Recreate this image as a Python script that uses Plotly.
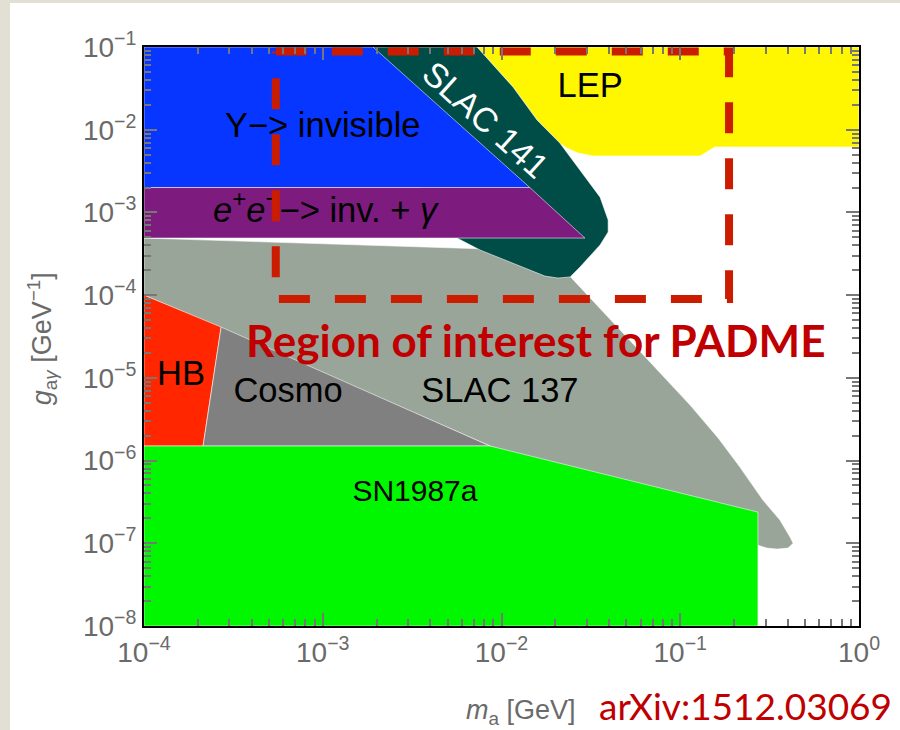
import plotly.graph_objects as go

# ---- exclusion regions in the (m_a [GeV], g_a_gamma [GeV^-1]) plane ----
# SLAC 137 beam dump
slac137_m = [1e-4, 1.27e-2, 2.07e-2, 5.04e-2, 7.71e-2, 0.1135, 0.163, 0.216,
             0.290, 0.361, 0.411, 0.428, 0.401, 0.348, 0.305, 0.272, 0.129, 8.63e-3, 1e-4]
slac137_g = [4.9e-4, 3.51e-4, 2.42e-4, 3.03e-5, 1.14e-5, 4.69e-6, 1.87e-6, 8.3e-7,
             3.33e-7, 1.91e-7, 1.19e-7, 1.0e-7, 8.75e-8, 8.5e-8, 8.75e-8, 9.5e-8, 1.91e-7, 1.5e-6, 1e-4]

# LEP
lep_m = [7.30e-3, 1.16e-2, 1.58e-2, 2.12e-2, 2.32e-2, 2.68e-2, 3.25e-2, 0.129, 0.156, 1.0, 1.0]
lep_g = [0.1, 3.28e-2, 1.31e-2, 6.9e-3, 6.0e-3, 5.22e-3, 4.81e-3, 4.81e-3, 6.18e-3, 6.18e-3, 0.1]

# SLAC 141 beam dump
slac141_m = [1.91e-3, 7.30e-3, 1.16e-2, 1.58e-2, 2.12e-2, 2.75e-2, 3.56e-2, 3.95e-2, 3.95e-2,
             3.56e-2, 3.13e-2, 2.75e-2, 2.42e-2, 2.07e-2, 1.75e-2, 1.44e-2, 1.05e-2, 7.59e-3,
             5.64e-3, 3.5e-3]
slac141_g = [0.1, 0.1, 3.28e-2, 1.31e-2, 6.9e-3, 3.26e-3, 1.53e-3, 8.1e-4, 5.8e-4,
             4.04e-4, 2.97e-4, 2.19e-4, 1.66e-4, 1.61e-4, 1.70e-4, 2.01e-4, 2.65e-4, 3.51e-4,
             4.9e-4, 2.0e-3]

# Upsilon -> invisible
ups_m = [1e-4, 1.91e-3, 1.44e-2, 1e-4]
ups_g = [0.1, 0.1, 2.0e-3, 2.0e-3]

# e+e- -> invisible + gamma
ee_m = [1e-4, 1.44e-2, 2.93e-2, 1e-4]
ee_g = [2.0e-3, 2.0e-3, 4.9e-4, 4.9e-4]

# Horizontal branch stars
hb_m = [1e-4, 2.70e-4, 2.14e-4, 1e-4]
hb_g = [1e-4, 4.11e-5, 1.5e-6, 1.5e-6]

# Cosmology
cosmo_m = [2.70e-4, 8.63e-3, 2.14e-4]
cosmo_g = [4.11e-5, 1.5e-6, 1.5e-6]

# SN1987a
sn_m = [1e-4, 8.63e-3, 0.272, 0.272, 1e-4]
sn_g = [1.5e-6, 1.5e-6, 2.38e-7, 1e-8, 1e-8]

# PADME region of interest (box corners)
roi_m = [5.46e-4, 0.1875]
roi_g = [8.97e-5, 8.83e-2]

# axis ticks
x_tickvals = [1e-4, 1e-3, 1e-2, 1e-1, 1e0]
x_ticktext = ["10<sup>−4</sup>", "10<sup>−3</sup>", "10<sup>−2</sup>", "10<sup>−1</sup>", "10<sup>0</sup>"]
y_tickvals = [1e-8, 1e-7, 1e-6, 1e-5, 1e-4, 1e-3, 1e-2, 1e-1]
y_ticktext = ["10<sup>−8</sup>", "10<sup>−7</sup>", "10<sup>−6</sup>", "10<sup>−5</sup>",
              "10<sup>−4</sup>", "10<sup>−3</sup>", "10<sup>−2</sup>", "10<sup>−1</sup>"]

# region labels: text, m position, g position, font size
labels_text = ["Υ−> invisible", "<i>e</i><sup>+</sup><i>e</i><sup>−</sup>−> inv. + <i>γ</i>",
               "LEP", "HB", "Cosmo", "SLAC 137", "SN1987a"]
labels_m = [1.0e-3, 1.03e-3, 3.13e-2, 1.61e-4, 6.4e-4, 9.8e-3, 3.28e-3]
labels_g = [1.05e-2, 9.8e-4, 3.19e-2, 1.05e-5, 6.5e-6, 6.5e-6, 4.05e-7]
labels_size = [34.5, 34.5, 34.5, 34.5, 34.5, 34.5, 30]

EDGE = dict(color="rgba(255,255,255,0.55)", width=1)

regions = [
    (slac137_m, slac137_g, "#9aa59a"),
    (lep_m, lep_g, "#fff700"),
    (slac141_m, slac141_g, "#004c47"),
    (ups_m, ups_g, "#0636ff"),
    (ee_m, ee_g, "#7e1b7e"),
    (hb_m, hb_g, "#ff2600"),
    (cosmo_m, cosmo_g, "#808080"),
    (sn_m, sn_g, "#00f700"),
]

fig = go.Figure()
for m, g, col in regions:
    fig.add_trace(go.Scatter(
        x=m + [m[0]], y=g + [g[0]], mode="lines", fill="toself",
        fillcolor=col, line=EDGE, hoverinfo="skip", showlegend=False,
    ))

fig.add_trace(go.Scatter(
    x=labels_m, y=labels_g, mode="text", text=labels_text,
    textposition="middle center",
    textfont=dict(family="Liberation Sans", size=labels_size, color="black"),
    hoverinfo="skip", showlegend=False,
))

# dashed box, traced clockwise from the top-left corner
box_m = [roi_m[0], roi_m[1], roi_m[1], roi_m[0], roi_m[0]]
box_g = [roi_g[1], roi_g[1], roi_g[0], roi_g[0], roi_g[1]]
fig.add_trace(go.Scatter(
    x=box_m, y=box_g, mode="lines",
    line=dict(color="#cc1c00", width=8, dash="31px,25px"),
    hoverinfo="skip", showlegend=False,
))

axis_common = dict(
    type="log", showgrid=False, zeroline=False,
    showline=True, linecolor="black", linewidth=2, mirror="allticks",
    ticks="inside", ticklen=13, tickwidth=2, tickcolor="#777777",
    tickfont=dict(family="Liberation Sans", size=28, color="#6a6a6a"),
    minor=dict(ticks="inside", ticklen=7, tickwidth=2, tickcolor="#777777", dtick="D1", showgrid=False),
)

fig.update_xaxes(range=[-4, 0], tickmode="array", tickvals=x_tickvals, ticktext=x_ticktext, **axis_common)
fig.update_yaxes(range=[-8, -1], tickmode="array", tickvals=y_tickvals, ticktext=y_ticktext, **axis_common)

red_font = dict(family="Lato", color="#c00000")
grey_font = dict(family="Liberation Sans", size=27, color="#6a6a6a")

fig.update_layout(
    width=900, height=730,
    margin=dict(l=144, r=41, t=47, b=104, pad=0),
    paper_bgcolor="#e2dfd4", plot_bgcolor="white",
    shapes=[dict(type="rect", xref="paper", yref="paper", x0=-0.1874, x1=1.2, y0=-0.3, y1=1.076,
                 fillcolor="white", line=dict(width=0), layer="below")],
    annotations=[
        dict(text="SLAC 141", x=-2.087, y=-1.883, xref="x", yref="y", showarrow=False,
             xanchor="center", yanchor="middle",
             textangle=42, font=dict(family="Liberation Sans", size=34, color="white")),
        dict(text="Region of interest for PADME", x=0.5476, y=0.494, xref="paper", yref="paper",
             xanchor="center", yanchor="middle", showarrow=False,
             font=dict(size=44, weight="bold", **red_font)),
        dict(text="arXiv:1512.03069", x=0.8406, y=-0.1365, xref="paper", yref="paper",
             xanchor="center", yanchor="middle", showarrow=False, borderpad=0,
             font=dict(size=37, **red_font)),
        dict(text="<i>m</i><sub>a</sub> [GeV]", x=0.527, y=-0.1485, xref="paper", yref="paper",
             xanchor="center", yanchor="middle", showarrow=False, font=grey_font),
        dict(text="<i>g</i><sub>a<i>γ</i></sub> [GeV<sup>−1</sup>]", x=-0.1427, y=0.497,
             xref="paper", yref="paper", xanchor="center", yanchor="middle",
             showarrow=False, textangle=-90, font=grey_font),
    ],
)

fig.write_html("out.html")
